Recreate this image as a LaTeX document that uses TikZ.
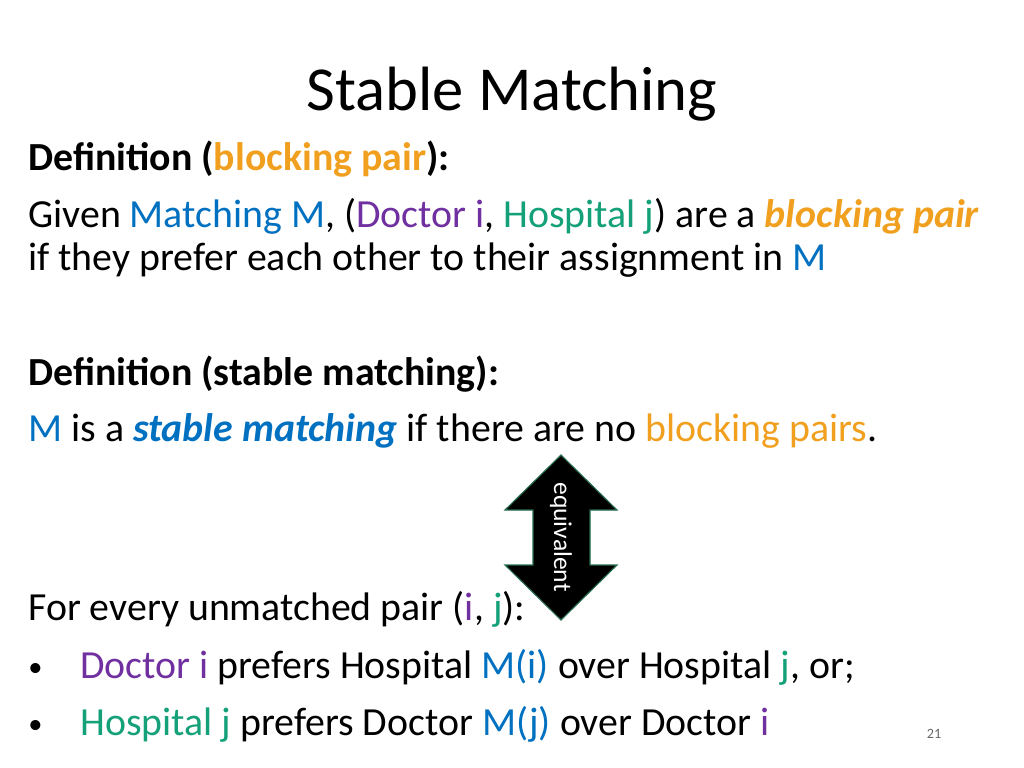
\documentclass[tikz,border=0pt]{standalone}
\usepackage{fontspec}
\setmainfont{Carlito}
\definecolor{slideblue}{RGB}{0,112,192}
\definecolor{slidepurple}{RGB}{112,48,160}
\definecolor{slidegreen}{RGB}{20,160,120}
\definecolor{slideorange}{RGB}{240,160,30}
\definecolor{arrowedge}{RGB}{40,110,80}
\newcommand{\bl}[1]{\textcolor{slideblue}{#1}}
\newcommand{\pu}[1]{\textcolor{slidepurple}{#1}}
\newcommand{\gr}[1]{\textcolor{slidegreen}{#1}}
\newcommand{\og}[1]{\textcolor{slideorange}{#1}}
\begin{document}
\begin{tikzpicture}[x=0.703pt,y=-0.703pt,
    line/.style={anchor=base west, inner sep=0pt, font=\fontsize{28}{32}\selectfont}]
    \useasboundingbox (0,0) rectangle (1024,768);
    % title
    \node[anchor=base, inner sep=0pt, font=\fontsize{44}{50}\selectfont] (title) at (512,110) {Stable Matching};
    % first definition
    \node[line] (defa) at (28,170) {\textbf{Definition (\og{blocking pair}):}};
    \node[line] (givena) at (28,227) {Given \bl{Matching M}, (\pu{Doctor i}, \gr{Hospital j}) are a \og{\textbf{\textit{blocking pair}}}};
    \node[line] (givenb) at (28,270) {if they prefer each other to their assignment in \bl{M}};
    % second definition
    \node[line] (defb) at (28,385) {\textbf{Definition (stable matching):}};
    \node[line] (stable) at (28,441) {\bl{M} is a \bl{\textbf{\textit{stable matching}}} if there are no \og{blocking pairs}.};
    % equivalent arrow
    \draw[arrowedge, fill=black, line width=0.8pt]
        (561,455) -- (617,510) -- (590,510) -- (590,565) -- (617,565) -- (561,620)
        -- (505,565) -- (533,565) -- (533,510) -- (505,510) -- cycle;
    \node[rotate=-90, text=white, inner sep=0pt, font=\fontsize{18}{20}\selectfont] (equiv) at (561,537) {equivalent};
    % condition
    \node[line] (every) at (28,620) {For every unmatched pair (\pu{i}, \gr{j}):};
    \node[line, font=\fontsize{20}{24}\selectfont] (bula) at (28,676) {\textbullet};
    \node[line] (conda) at (80,678) {\pu{Doctor i} prefers Hospital \bl{M(i)} over Hospital \gr{j}, or;};
    \node[line, font=\fontsize{20}{24}\selectfont] (bulb) at (28,733) {\textbullet};
    \node[line] (condb) at (80,735) {\gr{Hospital j} prefers Doctor \bl{M(j)} over Doctor \pu{i}};
    \node[anchor=base, inner sep=0pt, text=black!60, font=\fontsize{10}{12}\selectfont] (page) at (934,738) {21};
\end{tikzpicture}
\end{document}
